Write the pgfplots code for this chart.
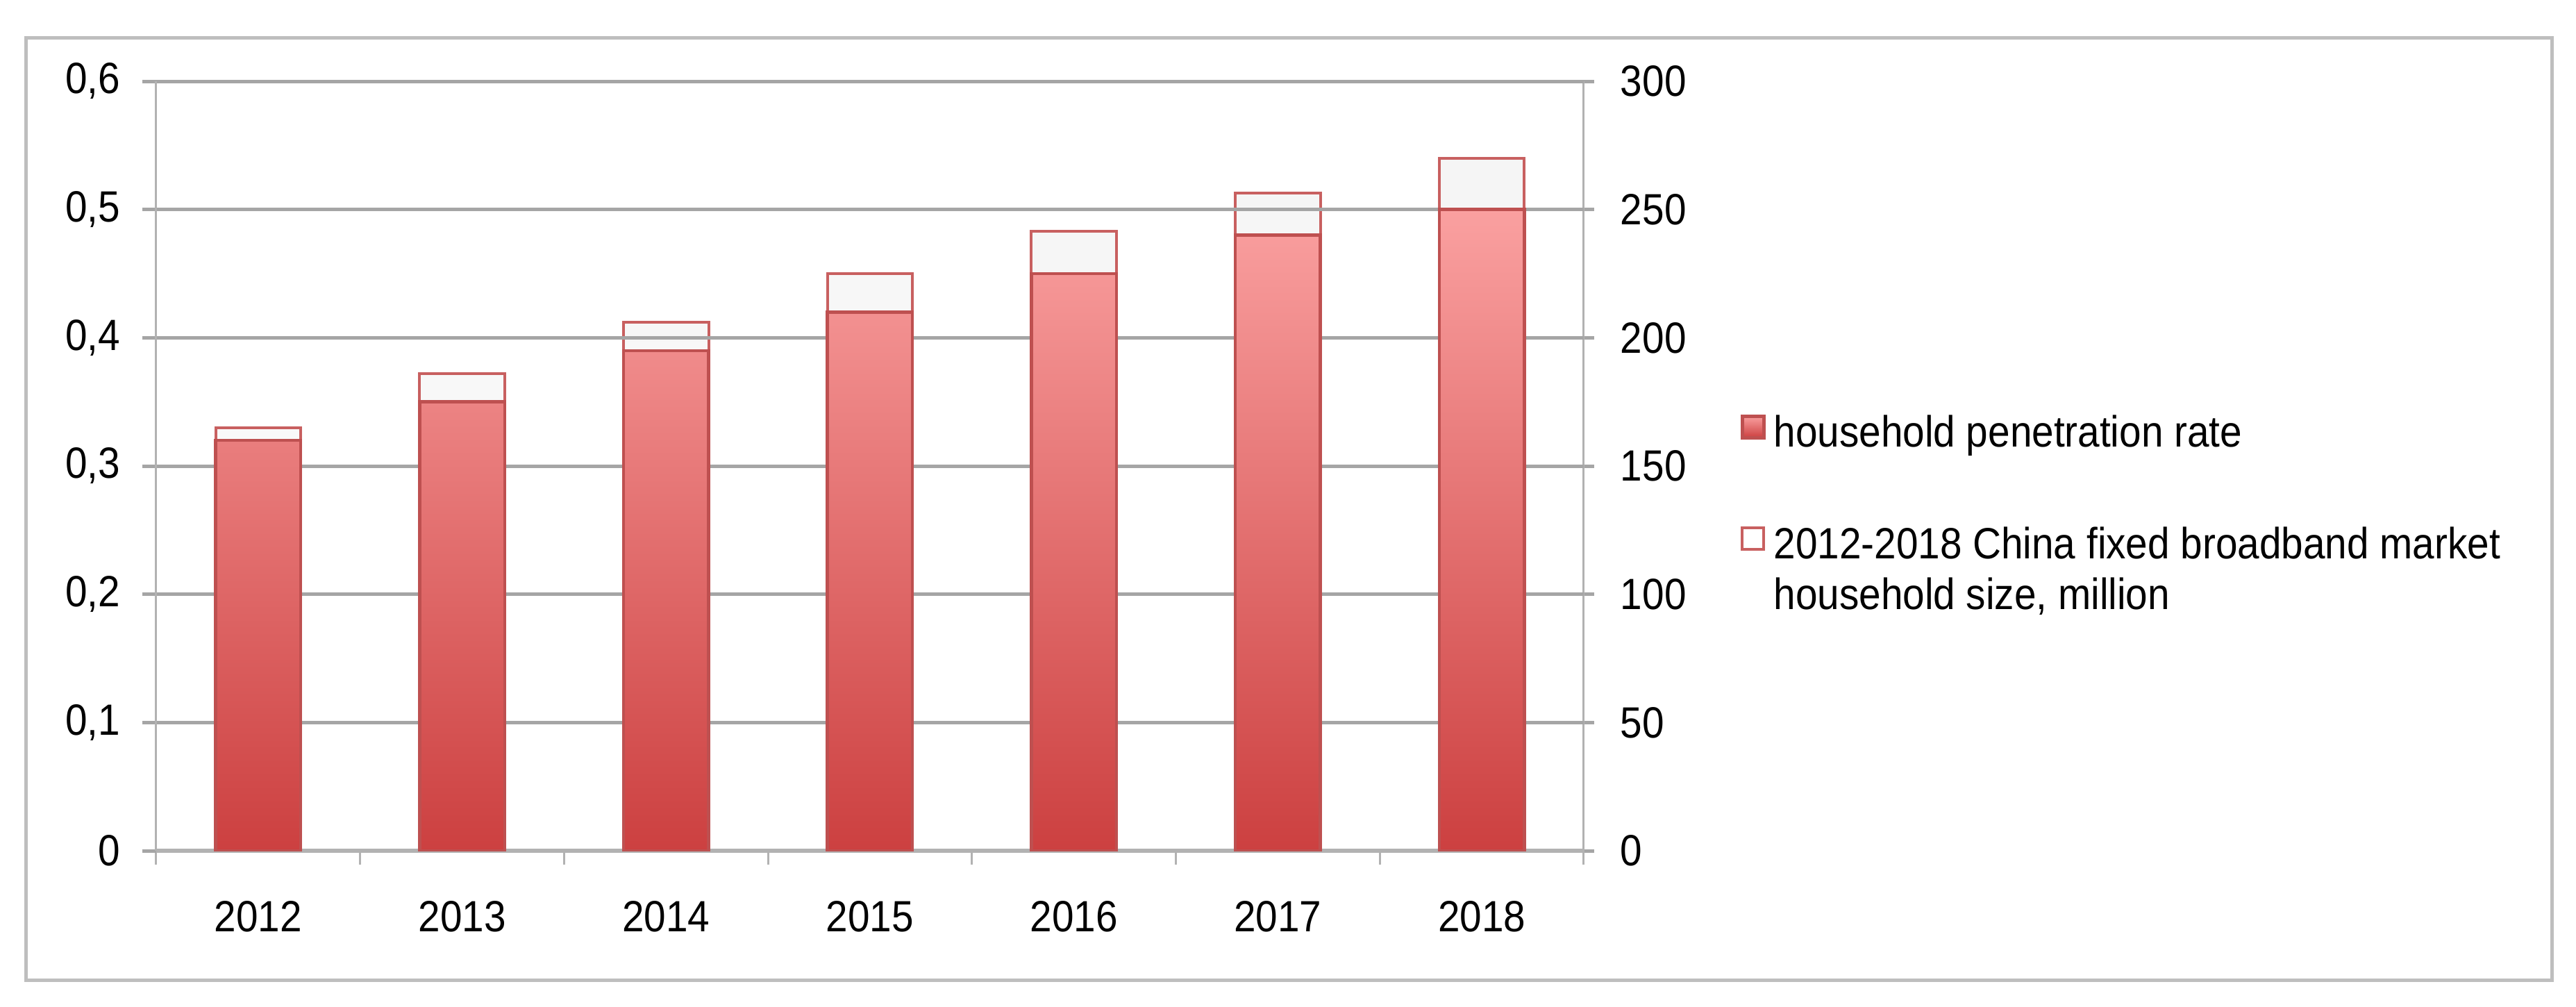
\documentclass[border=0pt]{standalone}
\usepackage{fontspec}
\setmainfont{Liberation Sans}[FakeStretch=0.9]
\usepackage{pgfplots}
\pgfplotsset{compat=1.18}
\usepackage{pgfplotstable}

\definecolor{gridgray}{RGB}{165,165,165}
\definecolor{axgray}{RGB}{178,178,178}
\definecolor{framegray}{RGB}{190,190,190}
\definecolor{bartop}{RGB}{250,160,160}
\definecolor{barbot}{RGB}{204,64,64}
\definecolor{baredge}{RGB}{190,80,80}
\definecolor{outred}{RGB}{200,96,96}

\pgfplotsset{sqlegend/.style={legend image code/.code={\draw[##1] (0pt,2.6pt) rectangle (6.2pt,8.8pt);}}}

\pgfplotstableread{
x rate size
0 0.32 165
1 0.35 186
2 0.39 206
3 0.42 225
4 0.45 241.5
5 0.48 256.5
6 0.50 270
}\data

\begin{document}
\begin{tikzpicture}[font=\fontsize{12.6pt}{14.6pt}\selectfont]
\useasboundingbox (0,0) rectangle (742pt,289.8pt);
\draw[framegray, line width=1pt] (7.4pt,7.6pt) rectangle (735pt,278.8pt);

% right axis: household size (outline bars)
\begin{axis}[
  scale only axis, width=411.2pt, height=221.6pt,
  at={(45pt,44.8pt)}, anchor=south west,
  xmin=-0.5, xmax=6.5, ymin=0, ymax=300, ytick={0,50,...,300},
  axis x line=none, axis y line*=right,
  y axis line style={axgray, line width=0.6pt},
  tick align=outside, major tick length=3pt,
  ytick style={gridgray, line width=1pt},
  yticklabel style={anchor=west, inner sep=0pt, xshift=7.4pt},
  /pgf/number format/assume math mode=true,
]
\addplot[ybar, bar width=24.5pt, draw=outred, line width=0.8pt,
  top color=gray!8, bottom color=white] table[x=x,y=size]{\data};
\end{axis}

% left axis: penetration rate (solid bars)
\begin{axis}[
  scale only axis, width=411.2pt, height=221.6pt,
  at={(45pt,44.8pt)}, anchor=south west,
  xmin=-0.5, xmax=6.5, ymin=0, ymax=0.6, ytick={0,0.1,...,0.6},
  axis x line*=bottom, axis y line*=left,
  x axis line style={axgray, line width=1.2pt},
  y axis line style={axgray, line width=0.6pt},
  ymajorgrids, grid style={gridgray, line width=1pt},
  tick align=outside, major tick length=4pt,
  ytick style={gridgray, line width=1pt},
  xtick={-0.5,0.5,...,6.5}, xticklabels={,,,,,,,,},
  xtick style={axgray, line width=0.6pt},
  extra x ticks={0,1,2,3,4,5,6},
  extra x tick labels={2012,2013,2014,2015,2016,2017,2018},
  extra x tick style={major tick length=0pt,
    xticklabel style={anchor=north, inner sep=0pt, yshift=-14.4pt}},
  yticklabel style={anchor=east, inner sep=0pt, xshift=-6.2pt},
  /pgf/number format/fixed, /pgf/number format/precision=1,
  /pgf/number format/use comma, /pgf/number format/assume math mode=true,
  legend style={at={(1.110,0.5668)}, anchor=north west, draw=none, fill=none,
    inner sep=0pt, outer sep=0pt, row sep=20.5pt, column sep=2.4pt,
    cells={anchor=base west}, nodes={inner sep=0pt}},
]
\addplot[ybar, bar width=24.5pt, draw=baredge, line width=0.9pt,
  top color=bartop, bottom color=barbot, sqlegend]
  table[x=x,y=rate]{\data};
\addlegendentry{household penetration rate}
\addlegendimage{draw=outred, line width=0.8pt, fill=white, sqlegend}
\addlegendentry{\begin{tabular}[t]{@{}l@{}}2012-2018 China fixed broadband market\\household size, million\end{tabular}}
\end{axis}
\end{tikzpicture}
\end{document}
